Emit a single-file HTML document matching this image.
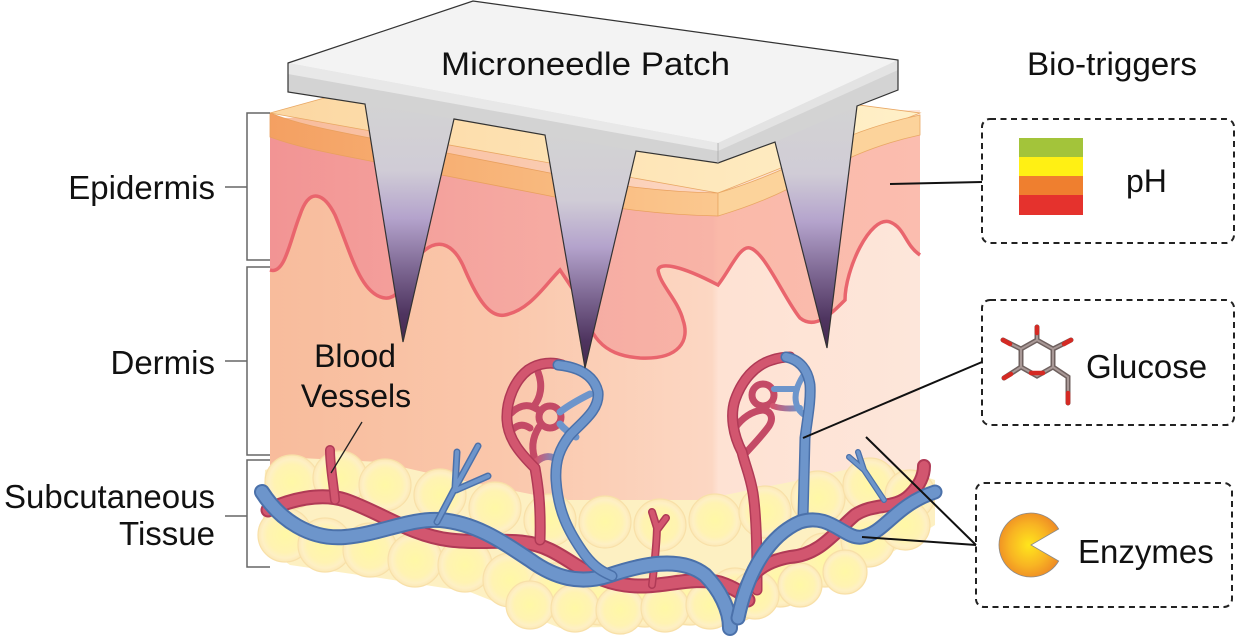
<!DOCTYPE html>
<html><head><meta charset="utf-8"><style>
html,body{margin:0;padding:0;background:#fff;}
svg{display:block;}
text{font-family:"Liberation Sans",Arial,sans-serif;fill:#111;}
</style></head><body>
<svg width="1237" height="638" viewBox="0 0 1237 638" xmlns="http://www.w3.org/2000/svg">
<defs>
<linearGradient id="derm" x1="270" y1="0" x2="920" y2="0" gradientUnits="userSpaceOnUse">
<stop offset="0" stop-color="#f8bc9c"/><stop offset="0.35" stop-color="#fac7ab"/><stop offset="0.68" stop-color="#fcd7c3"/><stop offset="0.69" stop-color="#fee2d3"/><stop offset="1" stop-color="#fde6da"/></linearGradient>
<linearGradient id="epi" x1="270" y1="0" x2="920" y2="0" gradientUnits="userSpaceOnUse">
<stop offset="0" stop-color="#f29494"/><stop offset="0.35" stop-color="#f5a7a0"/><stop offset="0.68" stop-color="#f8b4a7"/><stop offset="0.69" stop-color="#fab9a9"/><stop offset="1" stop-color="#fbbdaf"/></linearGradient>
<linearGradient id="band" x1="270" y1="0" x2="718" y2="0" gradientUnits="userSpaceOnUse">
<stop offset="0" stop-color="#f4a062"/><stop offset="1" stop-color="#fbc88f"/></linearGradient>
<linearGradient id="top" x1="270" y1="0" x2="920" y2="0" gradientUnits="userSpaceOnUse">
<stop offset="0" stop-color="#fcd7a2"/><stop offset="1" stop-color="#fff0c8"/></linearGradient>
<linearGradient id="needle" x1="0" y1="0" x2="0" y2="1">
<stop offset="0" stop-color="#d3d3d3"/><stop offset="0.28" stop-color="#d0ccd6"/><stop offset="0.48" stop-color="#b4a3cc"/><stop offset="0.7" stop-color="#7b6590"/><stop offset="0.88" stop-color="#4f3560"/><stop offset="1" stop-color="#45294f"/></linearGradient>
<radialGradient id="fat" cx="0.5" cy="0.5" r="0.5">
<stop offset="0" stop-color="#fff8a6"/><stop offset="0.65" stop-color="#fff3b2"/><stop offset="0.85" stop-color="#fef0c4"/><stop offset="1" stop-color="#fce8b6"/></radialGradient>
<radialGradient id="pac" cx="0.5" cy="0.5" r="0.55">
<stop offset="0" stop-color="#ffe61c"/><stop offset="0.6" stop-color="#f8b423"/><stop offset="1" stop-color="#ee8a24"/></radialGradient>
<linearGradient id="rb" x1="0" y1="0" x2="1" y2="0">
<stop offset="0" stop-color="#d2566f"/><stop offset="1" stop-color="#6d95cb"/></linearGradient>
</defs>

<!-- Dermis -->
<path d="M270,118 L920,110 L920,500 L270,505 Z" fill="url(#derm)"/>
<!-- Epidermis -->
<path d="M270,270 C285,275 290,240 300,215 C310,185 325,195 335,215 C350,250 360,295 385,298 C405,300 410,260 425,250 C440,238 455,245 465,270 C478,300 490,318 505,315 C530,310 545,285 560,270 L580,300 C590,335 600,355 640,358 C680,360 690,340 683,320 C678,300 660,285 658,270 C660,262 680,265 718,285 C730,270 740,245 750,248 C765,252 785,300 800,318 C815,330 830,315 845,300 C845,270 870,215 890,222 C905,228 905,245 920,255 L920,118 L718,205 L270,125 Z" fill="url(#epi)"/>
<path d="M270,270 C285,275 290,240 300,215 C310,185 325,195 335,215 C350,250 360,295 385,298 C405,300 410,260 425,250 C440,238 455,245 465,270 C478,300 490,318 505,315 C530,310 545,285 560,270 L580,300 C590,335 600,355 640,358 C680,360 690,340 683,320 C678,300 660,285 658,270 C660,262 680,265 718,285 C730,270 740,245 750,248 C765,252 785,300 800,318 C815,330 830,315 845,300 C845,270 870,215 890,222 C905,228 905,245 920,255" fill="none" stroke="#e9656d" stroke-width="3.5"/>
<!-- top face of skin -->
<path d="M270,113 L480,55 L920,113 L718,193 Z" fill="url(#top)" stroke="#e9a865" stroke-width="0.8"/>
<!-- front-left band -->
<path d="M270,113 C300,125 330,130 380,140 C430,150 470,157 545,172 C600,184 660,192 718,193 L718,216 C660,215 600,207 545,195 C470,180 430,173 380,163 C330,153 300,148 270,137 Z" fill="url(#band)" stroke="#e9a05e" stroke-width="0.8"/>
<!-- right band -->
<path d="M718,193 C745,185 770,175 790,166 C820,150 850,130 920,115 L920,135 C860,148 830,168 790,188 C770,198 745,208 718,216 Z" fill="#fcd39b" stroke="#e9a865" stroke-width="0.8"/>

<!-- Fat backing -->
<path d="M265,470 L300,458 L380,462 L450,478 L560,500 L700,500 L800,480 L880,462 L935,480 L935,525 L880,560 L800,595 L700,625 L560,628 L470,592 L380,578 L290,565 L262,545 Z" fill="#fdf0c2"/>
<!-- Fat globules -->
<g fill="url(#fat)" stroke="#f8e0a8" stroke-width="1.2">
<circle cx="292" cy="482" r="27"/><circle cx="340" cy="478" r="27"/><circle cx="385" cy="485" r="26"/>
<circle cx="440" cy="495" r="26"/><circle cx="495" cy="508" r="26"/><circle cx="550" cy="520" r="26"/>
<circle cx="605" cy="522" r="26"/><circle cx="660" cy="525" r="26"/><circle cx="715" cy="520" r="26"/>
<circle cx="765" cy="512" r="26"/><circle cx="818" cy="498" r="27"/><circle cx="870" cy="485" r="27"/>
<circle cx="910" cy="495" r="25"/>
<circle cx="285" cy="535" r="27"/><circle cx="325" cy="545" r="27"/><circle cx="370" cy="550" r="27"/>
<circle cx="415" cy="560" r="27"/><circle cx="465" cy="565" r="27"/><circle cx="510" cy="580" r="27"/>
<circle cx="555" cy="590" r="27"/><circle cx="600" cy="598" r="27"/><circle cx="645" cy="600" r="27"/>
<circle cx="690" cy="598" r="27"/><circle cx="735" cy="595" r="27"/><circle cx="780" cy="580" r="27"/>
<circle cx="825" cy="560" r="27"/><circle cx="868" cy="540" r="27"/><circle cx="905" cy="525" r="25"/>
<circle cx="530" cy="605" r="24"/><circle cx="575" cy="608" r="24"/><circle cx="620" cy="610" r="24"/>
<circle cx="665" cy="608" r="24"/><circle cx="710" cy="605" r="24"/><circle cx="755" cy="595" r="24"/>
<circle cx="800" cy="585" r="22"/><circle cx="845" cy="572" r="22"/>
</g>

<!-- Vessels -->
<g fill="none" stroke-linecap="round" stroke-linejoin="round">
<!-- red main left -->
<path d="M268,510 C290,500 320,492 345,500 C380,512 410,535 450,540 C490,545 520,535 550,550 C575,562 590,580 625,585 C660,590 690,575 720,583 C735,588 745,595 748,600" stroke="#b03a56" stroke-width="15"/>
<path d="M268,510 C290,500 320,492 345,500 C380,512 410,535 450,540 C490,545 520,535 550,550 C575,562 590,580 625,585 C660,590 690,575 720,583 C735,588 745,595 748,600" stroke="#d2566f" stroke-width="11"/>
<!-- left red branch -->
<path d="M335,500 C333,480 330,465 330,450" stroke="#b03a56" stroke-width="10"/>
<path d="M335,500 C333,480 330,465 330,450" stroke="#d2566f" stroke-width="7"/>
<!-- middle red fork -->
<path d="M652,585 C655,560 657,540 657,525 M657,528 L652,512 M657,530 L666,518" stroke="#b03a56" stroke-width="8"/>
<path d="M652,585 C655,560 657,540 657,525 M657,528 L652,512 M657,530 L666,518" stroke="#d2566f" stroke-width="5"/>

<!-- capillary loop 1 -->
<g stroke="#c44a66" stroke-width="7">
<path d="M538,372 C543,385 541,398 533,407"/>
<path d="M510,414 C518,406 526,404 533,407 C537,409 539,410 540,411"/>
<circle cx="550" cy="417" r="11"/>
<path d="M539,427 C532,438 531,450 536,462"/>
<path d="M512,430 C518,424 524,424 530,428"/>
</g>
<path d="M536,462 C544,455 552,455 558,461" stroke="url(#rb)" stroke-width="7"/>
<g stroke="#6d95cb" stroke-width="7">
<path d="M560,412 C569,405 578,400 590,394"/>
<path d="M560,424 C565,430 570,433 576,437"/>
</g>
<path d="M540,540 C541,505 538,485 535,468 C522,455 508,440 507,420 C506,400 515,380 528,370 C540,362 553,362 562,365" stroke="#b03a56" stroke-width="11"/>
<path d="M540,540 C541,505 538,485 535,468 C522,455 508,440 507,420 C506,400 515,380 528,370 C540,362 553,362 562,365" stroke="#d2566f" stroke-width="8"/>

<!-- capillary loop 2 -->
<g stroke="#c44a66" stroke-width="7">
<circle cx="763" cy="395" r="11"/>
<path d="M735,428 C742,418 752,411 763,410 C771,411 774,418 769,426 C762,436 752,446 744,455"/>
</g>
<path d="M773,406 C781,409 790,409 800,408" stroke="url(#rb)" stroke-width="6"/>
<g stroke="#6d95cb" stroke-width="6">
<path d="M774,389 L797,389"/>
<path d="M803,376 C796,387 793,398 798,408 C800,412 803,414 806,416"/>
</g>
<path d="M757,590 C757,560 757,520 753,493 C750,475 745,465 742,452 C733,435 730,415 735,400 C742,380 755,365 772,360 C778,358 784,357 790,357" stroke="#b03a56" stroke-width="11"/>
<path d="M757,590 C757,560 757,520 753,493 C750,475 745,465 742,452 C733,435 730,415 735,400 C742,380 755,365 772,360 C778,358 784,357 790,357" stroke="#d2566f" stroke-width="8"/>

<!-- blue main left -->
<path d="M262,492 C280,520 310,540 345,537 C380,534 410,518 440,520 C475,523 500,540 530,560 C555,578 580,585 610,575 C640,565 680,555 705,575 C720,590 730,610 730,628" stroke="#4b71aa" stroke-width="16"/>
<path d="M262,492 C280,520 310,540 345,537 C380,534 410,518 440,520 C475,523 500,540 530,560 C555,578 580,585 610,575 C640,565 680,555 705,575 C720,590 730,610 730,628" stroke="#6d95cb" stroke-width="12"/>
<!-- blue fork left -->
<path d="M437,522 L455,488 M455,488 L457,452 M455,488 L478,446 M456,490 L488,476" stroke="#4b71aa" stroke-width="7"/>
<path d="M437,522 L455,488 M455,488 L457,452 M455,488 L478,446 M456,490 L488,476" stroke="#6d95cb" stroke-width="4"/>
<!-- blue loop 1 -->
<path d="M558,365 C578,367 594,375 598,392 C600,410 582,422 570,435 C560,448 555,460 556,480 C558,510 567,530 585,555 C595,568 603,572 612,576" stroke="#4b71aa" stroke-width="11"/>
<path d="M558,365 C578,367 594,375 598,392 C600,410 582,422 570,435 C560,448 555,460 556,480 C558,510 567,530 585,555 C595,568 603,572 612,576" stroke="#6d95cb" stroke-width="8"/>
<!-- blue loop 2 -->
<path d="M786,357 C800,360 808,370 810,385 C811,400 808,415 805,438 L803,518" stroke="#4b71aa" stroke-width="11"/>
<path d="M786,357 C800,360 808,370 810,385 C811,400 808,415 805,438 L803,518" stroke="#6d95cb" stroke-width="8"/>
<!-- red right -->
<path d="M742,598 C748,575 762,562 790,557 C820,555 835,532 855,515 C875,502 895,510 910,495 C920,485 924,475 924,466" stroke="#b03a56" stroke-width="14"/>
<path d="M742,598 C748,575 762,562 790,557 C820,555 835,532 855,515 C875,502 895,510 910,495 C920,485 924,475 924,466" stroke="#d2566f" stroke-width="10"/>
<!-- blue right -->
<path d="M738,618 C748,570 770,535 800,522 C830,512 845,540 862,537 C885,533 895,505 935,492" stroke="#4b71aa" stroke-width="15"/>
<path d="M738,618 C748,570 770,535 800,522 C830,512 845,540 862,537 C885,533 895,505 935,492" stroke="#6d95cb" stroke-width="11"/>
<!-- blue small fork right -->
<path d="M884,500 L864,470 M864,470 L849,457 M864,470 L858,452" stroke="#4b71aa" stroke-width="6"/>
<path d="M884,500 L864,470 M864,470 L849,457 M864,470 L858,452" stroke="#6d95cb" stroke-width="3.5"/>
</g>

<!-- Microneedle patch -->
<polygon points="288,63 473,1 898,60 898,90 857,106 827,348 775,142 718,163 636,151 585,368 545,135 454,119 403,342 365,104 288,92" fill="#d3d3d3"/>
<polygon points="288,63 718,143 718,151 288,74" fill="#e8e8e8"/>
<polygon points="718,143 898,60 898,70 718,151" fill="#e3e3e3"/>
<polygon points="288,63 473,1 898,60 718,143" fill="#f3f3f3"/>
<polygon points="365,104 454,119 403,342" fill="url(#needle)"/>
<polygon points="545,135 636,151 585,368" fill="url(#needle)"/>
<polygon points="775,142 857,106 827,348" fill="url(#needle)"/>
<polygon points="288,63 473,1 898,60 898,90 857,106 827,348 775,142 718,163 636,151 585,368 545,135 454,119 403,342 365,104 288,92" fill="none" stroke="#333" stroke-width="1.2" stroke-linejoin="miter"/>
<line x1="718" y1="143" x2="718" y2="163" stroke="#aaa" stroke-width="0.8"/>
<text x="441" y="75" font-size="32" textLength="289" lengthAdjust="spacingAndGlyphs">Microneedle Patch</text>

<!-- Left brackets -->
<g stroke="#666" stroke-width="1.5" fill="none">
<polyline points="270,113 247,113 247,260 270,260"/>
<line x1="225" y1="187" x2="247" y2="187"/>
<polyline points="270,267 247,267 247,455 270,455"/>
<line x1="225" y1="361" x2="247" y2="361"/>
<polyline points="270,460 247,460 247,567 270,567"/>
<line x1="225" y1="516" x2="247" y2="516"/>
</g>
<text x="215" y="199" font-size="33" text-anchor="end">Epidermis</text>
<text x="215" y="374" font-size="33" text-anchor="end">Dermis</text>
<text x="215" y="508" font-size="33" text-anchor="end">Subcutaneous</text>
<text x="215" y="545" font-size="33" text-anchor="end">Tissue</text>

<!-- Blood vessels label -->
<text x="355" y="367" font-size="32" text-anchor="middle">Blood</text>
<text x="356" y="407" font-size="32" text-anchor="middle">Vessels</text>
<line x1="362" y1="422" x2="331" y2="473" stroke="#222" stroke-width="1.3"/>

<!-- Bio-triggers -->
<text x="1027" y="75" font-size="32" textLength="170" lengthAdjust="spacingAndGlyphs">Bio-triggers</text>
<g fill="none" stroke="#222" stroke-width="2" stroke-dasharray="6 4.5">
<rect x="982" y="119" width="252" height="124" rx="8"/>
<rect x="982" y="300" width="252" height="125" rx="8"/>
<rect x="976" y="483" width="256" height="124" rx="8"/>
</g>
<!-- pH bars -->
<rect x="1019" y="138" width="64" height="19" fill="#a3c43a"/>
<rect x="1019" y="157" width="64" height="19" fill="#fff014"/>
<rect x="1019" y="176" width="64" height="19" fill="#ef7f2f"/>
<rect x="1019" y="195" width="64" height="20" fill="#e5322d"/>
<text x="1126" y="192" font-size="32">pH</text>
<!-- Glucose molecule -->
<g stroke-linecap="round" fill="none">
<path d="M1037,340 L1053,349 L1053,367 L1037,376 L1021,367 L1021,349 Z M1037,340 L1037,327 M1021,349 L1003,340 M1053,349 L1071,340 M1021,367 L1004,378 M1053,367 L1068,377 L1068,403" stroke="#6f615f" stroke-width="5"/>
<path d="M1037,340 L1053,349 L1053,367 L1037,376 L1021,367 L1021,349 Z M1037,340 L1037,327 M1021,349 L1003,340 M1053,349 L1071,340 M1021,367 L1004,378 M1053,367 L1068,377 L1068,403" stroke="#a89896" stroke-width="2"/>
<path d="M1037,333 L1037,327 M1010,344 L1003,340 M1064,344 L1071,340 M1011,374 L1004,378 M1068,393 L1068,403 M1031,373 L1043,373" stroke="#d42a24" stroke-width="4.5"/>
</g>
<text x="1086" y="378" font-size="33">Glucose</text>
<!-- Enzyme pacman -->
<path d="M1031,545 L1058.7,529 A32,32 0 1 0 1058.7,561 Z" fill="url(#pac)" stroke="#8a8a8a" stroke-width="0.8"/>
<text x="1078" y="563" font-size="33">Enzymes</text>

<!-- connectors -->
<g stroke="#111" stroke-width="2">
<line x1="890" y1="184" x2="982" y2="182"/>
<line x1="803" y1="438" x2="982" y2="362"/>
<line x1="866" y1="437" x2="976" y2="545"/>
<line x1="862" y1="537" x2="976" y2="545"/>
</g>
</svg>
</body></html>
